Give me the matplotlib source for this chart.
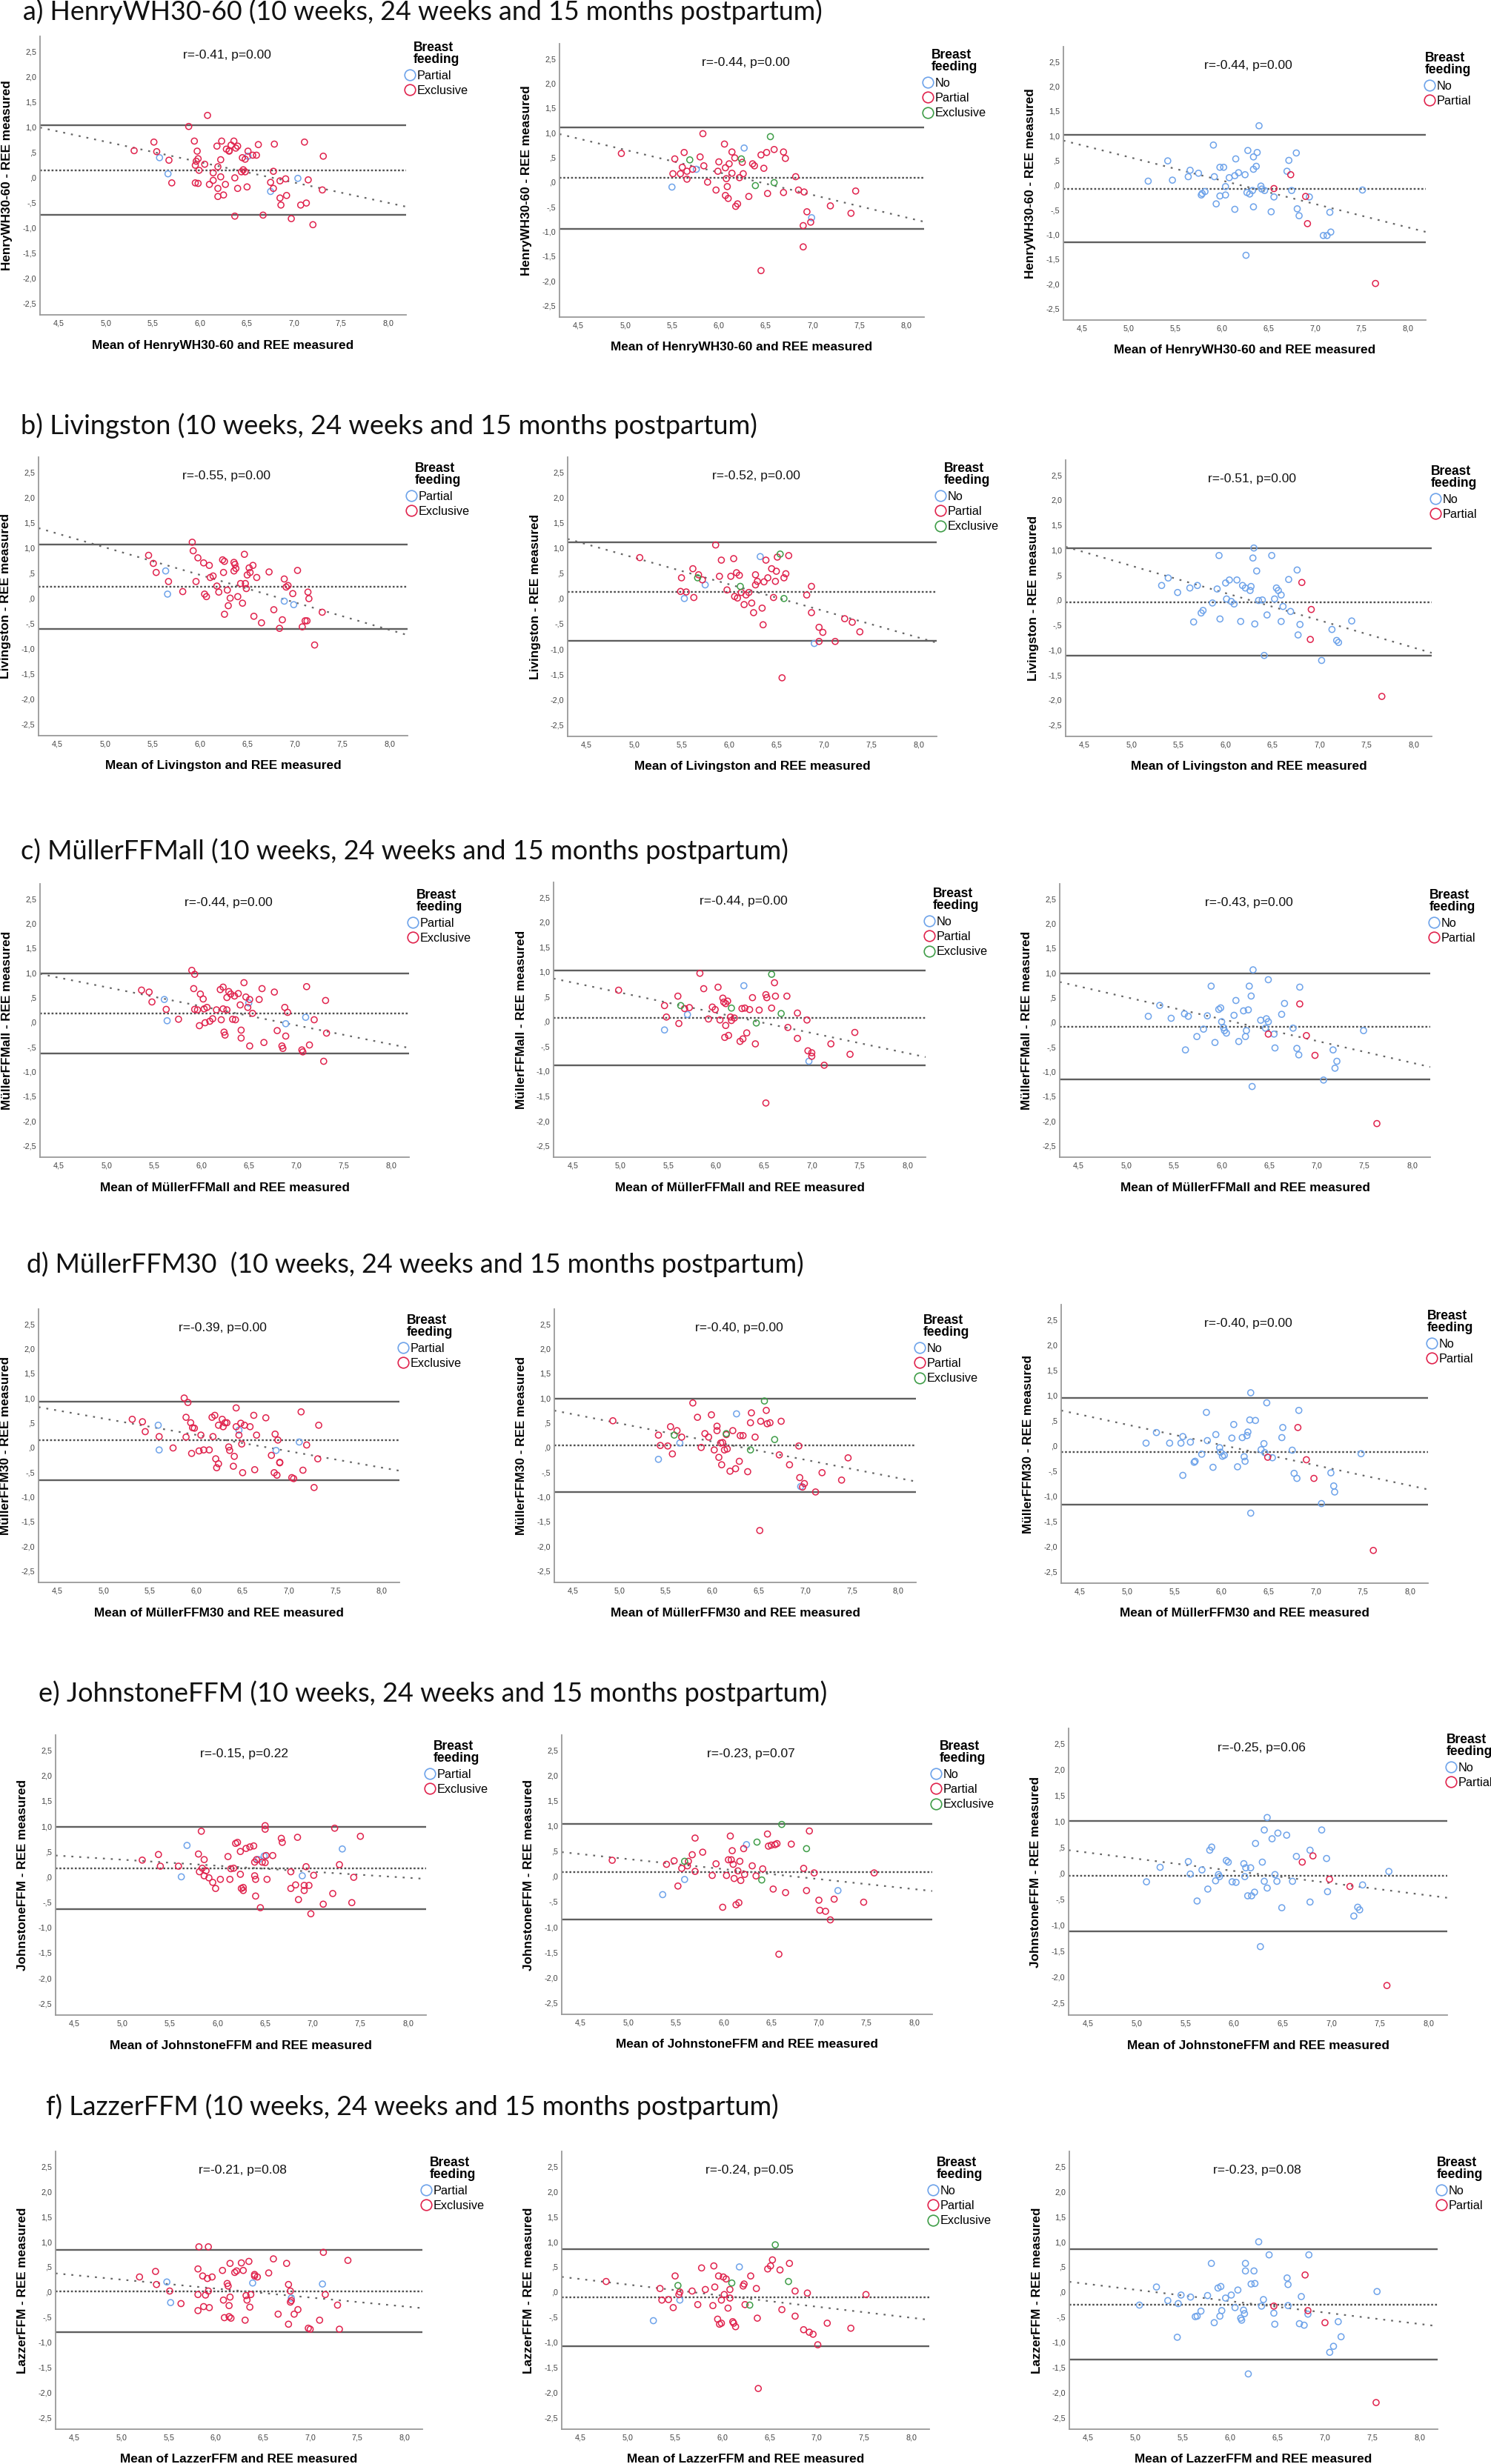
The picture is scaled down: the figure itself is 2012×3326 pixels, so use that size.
import numpy as np
import matplotlib
matplotlib.use('Agg')
import matplotlib.pyplot as plt
from matplotlib import font_manager
from matplotlib.lines import Line2D
from matplotlib.ticker import MultipleLocator, FuncFormatter

# ---------------- data (mean of methods, difference) ----------------
METHODS = ['HenryWH30-60', 'Livingston', 'MüllerFFMall', 'MüllerFFM30', 'JohnstoneFFM', 'LazzerFFM']
TITLES = [
    'a) HenryWH30-60 (10 weeks, 24 weeks and 15 months postpartum)',
    'b) Livingston (10 weeks, 24 weeks and 15 months postpartum)',
    'c) MüllerFFMall (10 weeks, 24 weeks and 15 months postpartum)',
    'd) MüllerFFM30  (10 weeks, 24 weeks and 15 months postpartum)',
    'e) JohnstoneFFM (10 weeks, 24 weeks and 15 months postpartum)',
    'f) LazzerFFM (10 weeks, 24 weeks and 15 months postpartum)',
]
LEGEND_LABELS = [['Partial', 'Exclusive'], ['No', 'Partial', 'Exclusive'], ['No', 'Partial']]

R_TEXT = [
    ['r=-0.41, p=0.00', 'r=-0.44, p=0.00', 'r=-0.44, p=0.00'],
    ['r=-0.55, p=0.00', 'r=-0.52, p=0.00', 'r=-0.51, p=0.00'],
    ['r=-0.44, p=0.00', 'r=-0.44, p=0.00', 'r=-0.43, p=0.00'],
    ['r=-0.39, p=0.00', 'r=-0.40, p=0.00', 'r=-0.40, p=0.00'],
    ['r=-0.15, p=0.22', 'r=-0.23, p=0.07', 'r=-0.25, p=0.06'],
    ['r=-0.21, p=0.08', 'r=-0.24, p=0.05', 'r=-0.23, p=0.08'],
]
LOA_UPPER = [[1.03, 1.10, 1.02], [1.06, 1.11, 1.03], [0.98, 1.02, 0.98],
             [0.93, 0.98, 0.94], [0.98, 1.04, 1.02], [0.84, 0.85, 0.85]]
BIAS = [[0.14, 0.08, -0.07], [0.23, 0.13, -0.05], [0.18, 0.07, -0.09],
        [0.14, 0.04, -0.12], [0.17, 0.09, -0.04], [0.01, -0.11, -0.25]]
LOA_LOWER = [[-0.74, -0.94, -1.16], [-0.61, -0.84, -1.11], [-0.63, -0.88, -1.16],
             [-0.66, -0.90, -1.17], [-0.64, -0.85, -1.11], [-0.80, -1.08, -1.34]]
REG_SLOPE = [[-0.404, -0.456, -0.475], [-0.546, -0.528, -0.546], [-0.385, -0.406, -0.442],
             [-0.331, -0.369, -0.403], [-0.119, -0.198, -0.236], [-0.178, -0.220, -0.227]]
REG_INTERCEPT = [[2.726, 2.933, 2.943], [3.738, 3.450, 3.413], [2.633, 2.610, 2.715],
                 [2.240, 2.333, 2.431], [0.933, 1.333, 1.465], [1.137, 1.248, 1.180]]

# ---- row a ----
A1_PARTIAL = [(5.57, 0.39), (5.66, 0.07), (6.51, 0.42), (6.75, -0.28), (7.04, -0.02)]
A1_EXCLUSIVE = [(5.30, 0.53), (5.51, 0.70), (5.54, 0.51), (5.67, 0.34), (5.70, -0.11), (5.88, 1.01),
    (5.94, 0.72), (5.95, -0.11), (5.95, 0.24), (5.96, 0.32), (5.97, 0.52), (5.98, 0.37), (5.98, -0.12),
    (5.99, 0.14), (6.05, 0.26), (6.08, 1.23), (6.10, -0.14), (6.14, 0.09), (6.14, -0.06), (6.18, 0.62),
    (6.19, 0.21), (6.19, -0.22), (6.19, -0.38), (6.22, 0.01), (6.22, 0.35), (6.23, 0.72), (6.25, -0.35),
    (6.27, -0.14), (6.28, 0.56), (6.31, 0.53), (6.31, 0.52), (6.33, 0.64), (6.36, 0.72), (6.37, -0.01),
    (6.37, -0.77), (6.38, 0.58), (6.40, 0.62), (6.40, -0.22), (6.44, 0.11), (6.45, 0.39), (6.46, 0.15),
    (6.48, 0.36), (6.48, 0.11), (6.50, -0.19), (6.51, 0.52), (6.56, 0.44), (6.60, 0.44), (6.62, 0.65),
    (6.67, -0.75), (6.75, -0.10), (6.78, -0.22), (6.78, 0.12), (6.79, 0.66), (6.85, -0.41), (6.85, -0.07),
    (6.86, -0.55), (6.91, -0.03), (6.92, -0.36), (6.97, -0.82), (7.07, -0.55), (7.11, 0.70), (7.13, -0.51),
    (7.15, -0.05), (7.20, -0.94), (7.30, -0.25), (7.31, 0.42)]
A2_NO = [(5.50, -0.10), (5.76, 0.26), (6.27, 0.69), (6.99, -0.72)]
A2_PARTIAL = [(4.96, 0.58), (5.51, 0.17), (5.53, 0.47), (5.59, 0.17), (5.61, 0.30), (5.63, 0.60),
    (5.66, 0.22), (5.66, 0.06), (5.72, 0.26), (5.80, 0.51), (5.83, 0.98), (5.84, 0.33), (5.88, 0.00),
    (5.97, -0.16), (5.99, 0.22), (6.00, 0.41), (6.06, 0.77), (6.07, 0.29), (6.07, -0.27), (6.08, 0.07),
    (6.09, -0.09), (6.10, -0.33), (6.11, 0.37), (6.14, 0.18), (6.14, 0.61), (6.17, 0.49), (6.18, -0.49),
    (6.20, -0.44), (6.22, 0.09), (6.25, 0.40), (6.26, 0.17), (6.32, -0.29), (6.36, 0.37), (6.38, 0.33),
    (6.45, 0.55), (6.45, -1.79), (6.48, 0.28), (6.51, 0.60), (6.52, -0.23), (6.59, 0.66), (6.69, 0.61),
    (6.69, -0.21), (6.71, 0.48), (6.82, 0.11), (6.85, -0.16), (6.90, -1.31), (6.90, -0.88), (6.91, -0.20),
    (6.94, -0.60), (6.98, -0.81), (7.19, -0.48), (7.41, -0.63), (7.46, -0.18)]
A2_EXCLUSIVE = [(5.69, 0.45), (6.24, 0.47), (6.39, -0.07), (6.55, 0.92), (6.59, -0.01)]
A3_NO = [(5.21, 0.08), (5.42, 0.49), (5.47, 0.10), (5.64, 0.17), (5.66, 0.30), (5.75, 0.24), (5.78, -0.20),
    (5.79, -0.17), (5.82, -0.13), (5.91, 0.81), (5.92, 0.17), (5.94, -0.38), (5.98, 0.36), (5.98, -0.22),
    (6.02, 0.36), (6.04, -0.03), (6.04, -0.20), (6.08, 0.15), (6.14, 0.19), (6.14, -0.49), (6.15, 0.53),
    (6.18, 0.25), (6.25, 0.21), (6.26, -1.42), (6.27, -0.15), (6.28, 0.70), (6.30, -0.18), (6.33, -0.11),
    (6.34, 0.32), (6.34, -0.44), (6.34, 0.57), (6.37, 0.38), (6.38, 0.66), (6.40, 1.20), (6.42, -0.02),
    (6.43, -0.08), (6.46, -0.11), (6.53, -0.54), (6.56, -0.24), (6.70, 0.28), (6.72, 0.50), (6.75, -0.11),
    (6.80, 0.65), (6.81, -0.48), (6.83, -0.62), (6.94, -0.24), (7.09, -1.02), (7.13, -1.02), (7.16, -0.55),
    (7.17, -0.95), (7.51, -0.10)]
A3_PARTIAL = [(6.56, -0.07), (6.74, 0.21), (6.90, -0.23), (6.92, -0.78), (7.65, -1.99)]

# ---- row b ----
B1_PARTIAL = [(5.64, 0.54), (5.66, 0.08), (6.89, -0.06), (6.99, -0.13)]
B1_EXCLUSIVE = [(5.46, 0.85), (5.51, 0.69), (5.54, 0.51), (5.67, 0.33), (5.82, 0.13), (5.92, 1.11),
    (5.93, 0.94), (5.96, 0.33), (5.98, 0.80), (6.04, 0.70), (6.05, 0.08), (6.07, 0.03), (6.10, 0.65),
    (6.11, 0.41), (6.14, 0.44), (6.18, 0.24), (6.20, 0.12), (6.24, 0.76), (6.25, 0.51), (6.26, 0.73),
    (6.26, -0.32), (6.29, 0.16), (6.30, -0.15), (6.32, 0.00), (6.36, 0.71), (6.36, 0.54), (6.37, 0.67),
    (6.38, 0.59), (6.40, 0.03), (6.43, 0.29), (6.45, -0.10), (6.47, 0.87), (6.48, 0.29), (6.49, 0.19),
    (6.50, 0.46), (6.52, 0.60), (6.53, 0.51), (6.56, 0.65), (6.57, -0.36), (6.60, 0.41), (6.65, -0.49),
    (6.73, 0.52), (6.78, -0.23), (6.84, -0.60), (6.87, -0.43), (6.89, 0.38), (6.91, 0.22), (6.93, 0.25),
    (6.98, 0.09), (7.03, 0.55), (7.08, -0.57), (7.11, -0.45), (7.13, -0.45), (7.14, 0.12), (7.15, -0.01),
    (7.21, -0.93), (7.29, -0.28)]
B2_NO = [(5.53, 0.00), (5.75, 0.27), (6.33, 0.83), (6.90, -0.89)]
B2_PARTIAL = [(5.06, 0.81), (5.49, 0.14), (5.50, 0.41), (5.55, 0.13), (5.62, 0.59), (5.63, 0.02),
    (5.68, 0.47), (5.72, 0.37), (5.86, 1.06), (5.90, 0.44), (5.92, 0.76), (5.98, 0.17), (6.02, 0.44),
    (6.05, 0.79), (6.06, 0.04), (6.08, 0.51), (6.09, 0.01), (6.11, 0.46), (6.13, 0.12), (6.16, -0.12),
    (6.18, 0.07), (6.21, 0.12), (6.24, -0.09), (6.26, -0.28), (6.28, 0.47), (6.28, 0.27), (6.30, 0.34),
    (6.35, -0.19), (6.36, -0.52), (6.37, 0.33), (6.39, 0.76), (6.41, 0.41), (6.45, 0.59), (6.47, 0.02),
    (6.49, 0.34), (6.50, 0.54), (6.51, 0.82), (6.58, 0.41), (6.60, 0.49), (6.63, 0.85), (6.82, 0.07),
    (6.87, 0.24), (6.87, -0.28), (6.95, -0.57), (6.99, -0.67), (7.12, -0.85), (7.22, -0.40), (7.30, -0.47),
    (7.38, -0.66), (6.56, -1.57), (6.95, -0.85)]
B2_EXCLUSIVE = [(5.67, 0.41), (6.12, 0.24), (6.54, 0.88), (6.58, 0.00)]
B3_NO = [(5.32, 0.29), (5.39, 0.44), (5.49, 0.15), (5.62, 0.24), (5.66, -0.44), (5.70, 0.29), (5.74, -0.26),
    (5.76, -0.21), (5.86, -0.06), (5.91, 0.22), (5.93, 0.89), (5.94, -0.38), (6.00, 0.34), (6.01, 0.02),
    (6.04, 0.40), (6.06, -0.03), (6.09, -0.08), (6.12, 0.40), (6.16, -0.43), (6.18, 0.29), (6.21, 0.24),
    (6.26, 0.19), (6.27, 0.27), (6.29, 0.84), (6.30, 1.04), (6.31, -0.48), (6.33, 0.58), (6.35, -0.01),
    (6.39, 0.00), (6.41, -1.11), (6.44, -0.30), (6.49, 0.89), (6.52, 0.02), (6.54, 0.24), (6.56, 0.19),
    (6.59, 0.10), (6.59, -0.43), (6.61, -0.13), (6.67, 0.41), (6.69, -0.23), (6.76, 0.60), (6.77, -0.70),
    (6.79, -0.49), (7.02, -1.21), (7.13, -0.59), (7.18, -0.81), (7.20, -0.85), (7.34, -0.42)]
B3_PARTIAL = [(6.81, 0.35), (6.91, -0.19), (6.90, -0.79), (7.66, -1.93)]

# ---- row c ----
C1_PARTIAL = [(5.61, 0.46), (5.64, 0.03), (6.50, 0.39), (6.89, -0.03), (7.10, 0.10)]
C1_EXCLUSIVE = [(5.37, 0.65), (5.45, 0.61), (5.48, 0.41), (5.63, 0.26), (5.76, 0.06), (5.90, 1.05),
    (5.93, 0.97), (5.92, 0.68), (5.93, 0.26), (5.96, 0.25), (5.98, -0.07), (5.99, 0.57), (6.02, 0.47),
    (6.03, 0.27), (6.04, -0.01), (6.06, 0.30), (6.09, 0.02), (6.12, 0.07), (6.16, 0.25), (6.20, 0.66),
    (6.21, 0.05), (6.23, 0.71), (6.23, 0.27), (6.24, -0.20), (6.25, -0.26), (6.27, 0.50), (6.27, 0.25),
    (6.29, 0.62), (6.31, 0.57), (6.33, 0.06), (6.35, 0.53), (6.36, 0.05), (6.39, 0.58), (6.41, 0.35),
    (6.42, -0.16), (6.42, -0.32), (6.45, 0.80), (6.47, 0.51), (6.49, 0.30), (6.51, 0.46), (6.51, -0.48),
    (6.54, 0.18), (6.61, 0.46), (6.64, 0.68), (6.66, -0.41), (6.77, 0.61), (6.80, -0.17), (6.85, -0.48),
    (6.86, -0.53), (6.88, 0.30), (6.89, -0.28), (6.91, 0.20), (7.06, -0.56), (7.07, -0.60), (7.11, 0.72),
    (7.14, -0.46), (7.19, 0.05), (7.31, 0.44), (7.32, -0.22), (7.29, -0.79)]
C2_NO = [(5.46, -0.17), (5.70, 0.14), (6.29, 0.72), (6.97, -0.80)]
C2_PARTIAL = [(4.98, 0.63), (5.46, 0.32), (5.48, 0.09), (5.60, 0.51), (5.61, -0.04), (5.67, 0.26),
    (5.72, 0.28), (5.83, 0.97), (5.87, 0.66), (5.92, 0.05), (5.96, 0.29), (5.99, 0.24), (6.02, 0.69),
    (6.04, 0.03), (6.07, 0.47), (6.08, 0.39), (6.09, -0.32), (6.10, -0.08), (6.10, 0.36), (6.12, 0.41),
    (6.13, -0.28), (6.15, 0.09), (6.16, 0.02), (6.19, 0.07), (6.25, -0.40), (6.27, 0.26), (6.28, -0.35),
    (6.30, 0.27), (6.32, -0.23), (6.35, 0.24), (6.38, 0.48), (6.41, -0.45), (6.45, 0.23), (6.52, 0.54),
    (6.53, 0.48), (6.58, 0.27), (6.61, 0.78), (6.62, 0.51), (6.74, 0.51), (6.75, -0.12), (6.85, 0.17),
    (6.85, -0.34), (6.95, 0.03), (6.96, -0.59), (7.00, -0.70), (7.00, -0.63), (7.13, -0.88), (7.20, -0.45),
    (7.40, -0.66), (7.45, -0.22), (6.52, -1.64)]
C2_EXCLUSIVE = [(5.63, 0.32), (6.16, 0.27), (6.42, -0.03), (6.58, 0.95), (6.68, 0.16)]
C3_NO = [(5.23, 0.12), (5.35, 0.34), (5.47, 0.08), (5.61, 0.17), (5.62, -0.56), (5.65, 0.12), (5.74, -0.29),
    (5.81, -0.14), (5.85, 0.13), (5.89, 0.73), (5.93, -0.41), (5.97, 0.26), (5.99, 0.29), (6.00, 0.01),
    (6.02, -0.11), (6.03, -0.17), (6.05, -0.22), (6.13, 0.14), (6.15, 0.44), (6.18, -0.39), (6.23, 0.23),
    (6.25, -0.29), (6.26, -0.17), (6.28, 0.25), (6.29, 0.73), (6.31, 0.53), (6.33, 1.06), (6.32, -1.30),
    (6.41, 0.04), (6.46, -0.12), (6.47, 0.07), (6.49, 0.86), (6.49, 0.01), (6.55, -0.24), (6.56, -0.52),
    (6.63, 0.16), (6.66, 0.38), (6.75, -0.12), (6.79, -0.53), (6.81, -0.66), (6.82, 0.71), (7.07, -1.17),
    (7.17, -0.56), (7.19, -0.93), (7.21, -0.79), (7.49, -0.17)]
C3_PARTIAL = [(6.49, -0.24), (6.82, 0.37), (6.89, -0.27), (6.98, -0.67), (7.63, -2.05)]

# ---- row d ----
D1_PARTIAL = [(5.59, 0.45), (5.60, -0.05), (6.46, 0.35), (6.86, -0.06), (7.11, 0.11)]
D1_EXCLUSIVE = [(5.31, 0.57), (5.42, 0.52), (5.45, 0.32), (5.60, 0.22), (5.75, -0.01), (5.87, 1.00),
    (5.91, 0.91), (5.89, 0.61), (5.89, 0.21), (5.94, 0.50), (5.95, -0.12), (5.96, 0.40), (5.98, 0.39),
    (6.03, -0.07), (6.05, 0.25), (6.08, -0.05), (6.14, -0.05), (6.17, 0.61), (6.18, 0.22), (6.20, 0.65),
    (6.21, -0.23), (6.22, -0.41), (6.24, 0.45), (6.24, -0.33), (6.28, 0.57), (6.29, 0.42), (6.31, 0.50),
    (6.33, 0.50), (6.35, 0.01), (6.36, -0.06), (6.40, -0.38), (6.41, -0.18), (6.43, 0.42), (6.43, 0.80),
    (6.46, 0.25), (6.48, 0.49), (6.49, 0.07), (6.50, -0.51), (6.52, 0.45), (6.58, 0.42), (6.62, 0.65),
    (6.63, -0.45), (6.65, 0.25), (6.75, 0.60), (6.81, -0.16), (6.84, -0.51), (6.85, 0.27), (6.87, -0.56),
    (6.88, 0.15), (6.90, -0.31), (6.90, -0.30), (7.03, -0.61), (7.05, -0.63), (7.13, 0.72), (7.15, -0.46),
    (7.19, 0.05), (7.32, 0.45), (7.31, -0.23), (7.27, -0.81)]
D2_NO = [(5.42, -0.24), (5.65, 0.09), (6.26, 0.68), (6.95, -0.79)]
D2_PARTIAL = [(4.93, 0.54), (5.42, 0.25), (5.44, 0.04), (5.52, 0.03), (5.55, 0.42), (5.57, -0.13),
    (5.62, 0.34), (5.67, 0.21), (5.79, 0.90), (5.84, 0.61), (5.88, 0.00), (5.92, 0.28), (5.96, 0.21),
    (5.99, 0.66), (6.02, -0.05), (6.05, 0.43), (6.05, 0.34), (6.07, -0.20), (6.09, 0.09), (6.10, -0.35),
    (6.11, 0.10), (6.13, -0.05), (6.15, 0.26), (6.16, -0.03), (6.19, -0.48), (6.22, 0.34), (6.25, -0.43),
    (6.29, -0.28), (6.30, 0.24), (6.33, 0.24), (6.38, -0.49), (6.41, 0.50), (6.42, 0.70), (6.46, 0.21),
    (6.52, 0.53), (6.58, 0.75), (6.59, 0.48), (6.62, 0.50), (6.72, -0.15), (6.74, 0.53), (6.83, -0.35),
    (6.93, 0.03), (6.94, -0.61), (6.97, -0.80), (6.99, -0.73), (7.11, -0.90), (7.18, -0.51), (7.39, -0.66),
    (7.46, -0.21), (6.51, -1.68)]
D2_EXCLUSIVE = [(5.59, 0.25), (6.15, 0.28), (6.41, -0.05), (6.56, 0.94), (6.67, 0.16)]
D3_NO = [(5.20, 0.05), (5.31, 0.26), (5.45, 0.05), (5.57, 0.05), (5.59, 0.18), (5.59, -0.59), (5.67, 0.07),
    (5.71, -0.33), (5.72, -0.31), (5.79, -0.17), (5.84, 0.66), (5.85, 0.10), (5.91, -0.43), (5.94, 0.22),
    (5.98, -0.04), (5.99, -0.13), (6.01, -0.21), (6.03, -0.19), (6.11, 0.15), (6.13, 0.42), (6.17, -0.42),
    (6.22, 0.16), (6.24, -0.22), (6.25, -0.31), (6.27, 0.20), (6.28, 0.27), (6.30, 0.51), (6.31, 1.05),
    (6.31, -1.34), (6.36, 0.50), (6.42, -0.08), (6.45, 0.04), (6.46, -0.14), (6.48, 0.85), (6.54, -0.24),
    (6.64, 0.16), (6.65, 0.36), (6.75, -0.09), (6.77, -0.55), (6.80, -0.65), (6.82, 0.70), (7.06, -1.15),
    (7.16, -0.54), (7.19, -0.80), (7.20, -0.92), (7.48, -0.16)]
D3_PARTIAL = [(6.49, -0.23), (6.81, 0.36), (6.90, -0.28), (6.98, -0.65), (7.61, -2.08)]

# ---- row e ----
E1_PARTIAL = [(5.62, 0.00), (5.68, 0.62), (6.43, 0.34), (6.49, 0.41), (6.89, 0.02), (7.31, 0.55)]
E1_EXCLUSIVE = [(5.21, 0.33), (5.38, 0.44), (5.40, 0.21), (5.59, 0.21), (5.80, 0.45), (5.81, 0.10),
    (5.83, 0.90), (5.84, 0.17), (5.86, 0.34), (5.86, 0.02), (5.88, 0.12), (5.91, -0.02), (5.95, -0.11),
    (5.98, -0.23), (6.03, -0.05), (6.11, 0.40), (6.13, -0.05), (6.14, 0.16), (6.17, 0.17), (6.19, 0.66),
    (6.21, 0.68), (6.24, 0.50), (6.24, 0.05), (6.25, -0.23), (6.27, -0.21), (6.27, -0.27), (6.30, 0.56),
    (6.34, 0.59), (6.38, 0.61), (6.39, 0.02), (6.39, 0.29), (6.40, -0.05), (6.40, -0.38), (6.41, 0.34),
    (6.45, -0.61), (6.47, 0.29), (6.50, 1.01), (6.50, 0.94), (6.50, 0.28), (6.51, 0.42), (6.52, -0.05),
    (6.58, 0.42), (6.67, 0.76), (6.68, 0.68), (6.77, 0.10), (6.77, -0.23), (6.82, -0.16), (6.84, 0.78),
    (6.85, -0.45), (6.91, -0.27), (6.91, -0.17), (6.93, 0.20), (6.96, -0.17), (6.98, -0.73), (7.01, 0.03),
    (7.11, -0.54), (7.21, -0.33), (7.23, 0.96), (7.28, 0.24), (7.41, -0.51), (7.50, 0.80), (7.43, -0.01)]
E2_NO = [(5.36, -0.36), (5.59, -0.06), (6.24, 0.63), (7.20, -0.28)]
E2_PARTIAL = [(4.83, 0.32), (5.40, 0.24), (5.48, 0.31), (5.52, -0.19), (5.56, 0.16), (5.62, 0.21),
    (5.63, 0.30), (5.67, 0.43), (5.70, 0.76), (5.70, 0.10), (5.78, 0.48), (5.88, 0.02), (5.92, 0.25),
    (5.99, -0.61), (6.03, 0.02), (6.05, 0.33), (6.07, 0.80), (6.08, 0.33), (6.09, 0.51), (6.10, 0.24),
    (6.11, -0.04), (6.13, -0.56), (6.15, 0.11), (6.16, -0.52), (6.17, 0.30), (6.18, -0.08), (6.21, 0.55),
    (6.22, 0.04), (6.30, 0.21), (6.34, 0.01), (6.41, 0.15), (6.46, 0.84), (6.47, 0.60), (6.50, 0.62),
    (6.52, -0.25), (6.54, 0.63), (6.56, 0.65), (6.65, -0.32), (6.71, 0.64), (6.84, 0.16), (6.87, -0.28),
    (6.90, 0.90), (6.95, 0.07), (7.00, -0.47), (7.01, -0.67), (7.07, -0.69), (7.12, -0.86), (7.16, -0.45),
    (7.47, -0.51), (7.58, 0.07), (6.58, -1.54)]
E2_EXCLUSIVE = [(5.59, 0.30), (6.35, 0.68), (6.40, -0.07), (6.61, 1.03), (6.87, 0.55)]
E3_NO = [(5.10, -0.16), (5.24, 0.12), (5.53, 0.23), (5.55, -0.01), (5.62, -0.53), (5.67, 0.07), (5.73, -0.30),
    (5.75, 0.45), (5.77, 0.51), (5.81, -0.14), (5.84, -0.02), (5.85, -0.06), (5.92, 0.25), (5.94, 0.22),
    (5.98, -0.16), (6.02, -0.17), (6.10, 0.19), (6.11, -0.06), (6.12, 0.11), (6.14, -0.43), (6.17, 0.11),
    (6.18, -0.43), (6.21, -0.36), (6.22, 0.58), (6.27, -1.41), (6.29, 0.22), (6.31, -0.15), (6.31, 0.84),
    (6.34, -0.28), (6.34, 1.08), (6.39, 0.67), (6.42, -0.02), (6.44, -0.15), (6.45, 0.78), (6.49, -0.66),
    (6.54, 0.74), (6.60, -0.15), (6.64, 0.33), (6.78, -0.55), (6.78, 0.45), (6.90, 0.84), (6.95, 0.29),
    (6.96, -0.35), (7.27, -0.65), (7.29, -0.70), (7.23, -0.82), (7.32, -0.22), (7.59, 0.04)]
E3_PARTIAL = [(6.70, 0.22), (6.81, 0.34), (6.98, -0.11), (7.19, -0.25), (7.57, -2.16)]

# ---- row f ----
F1_PARTIAL = [(5.48, 0.20), (5.52, -0.21), (6.39, 0.18), (6.80, -0.12), (7.13, 0.16)]
F1_EXCLUSIVE = [(5.19, 0.30), (5.36, 0.41), (5.37, 0.15), (5.51, 0.02), (5.63, -0.23), (5.81, 0.46),
    (5.81, -0.05), (5.81, -0.37), (5.82, 0.90), (5.86, 0.32), (5.87, -0.29), (5.89, -0.06), (5.91, 0.27),
    (5.92, 0.90), (5.92, 0.02), (5.93, -0.31), (5.96, 0.30), (6.07, 0.43), (6.08, -0.16), (6.09, -0.51),
    (6.12, 0.17), (6.13, 0.12), (6.14, -0.27), (6.14, -0.49), (6.15, 0.57), (6.15, -0.10), (6.16, -0.52),
    (6.20, 0.39), (6.22, 0.42), (6.27, 0.58), (6.29, 0.43), (6.31, -0.56), (6.32, -0.07), (6.33, -0.16),
    (6.35, 0.61), (6.36, -0.30), (6.37, -0.05), (6.41, 0.32), (6.41, 0.35), (6.44, 0.30), (6.56, 0.38),
    (6.61, 0.66), (6.66, -0.44), (6.75, 0.57), (6.77, 0.15), (6.77, -0.64), (6.79, 0.02), (6.79, -0.20),
    (6.80, -0.17), (6.83, -0.44), (6.87, -0.35), (6.98, -0.72), (7.00, -0.74), (7.10, -0.56), (7.14, 0.79),
    (7.16, -0.05), (7.29, -0.26), (7.31, -0.74), (7.40, 0.63)]
F2_NO = [(5.27, -0.57), (5.55, -0.16), (6.18, 0.50)]
F2_PARTIAL = [(4.77, 0.21), (5.34, 0.07), (5.36, -0.16), (5.43, -0.15), (5.48, -0.31), (5.50, 0.32),
    (5.54, -0.05), (5.55, 0.00), (5.68, 0.02), (5.74, -0.25), (5.78, 0.48), (5.82, 0.05), (5.90, -0.27),
    (5.91, 0.52), (5.92, 0.10), (5.95, -0.54), (5.96, 0.32), (5.97, -0.64), (5.99, -0.62), (5.99, -0.16),
    (6.01, 0.30), (6.02, -0.05), (6.04, 0.26), (6.06, -0.32), (6.08, -0.12), (6.08, 0.05), (6.11, -0.59),
    (6.12, -0.62), (6.14, -0.69), (6.22, 0.12), (6.23, 0.16), (6.24, -0.25), (6.30, 0.32), (6.36, 0.07),
    (6.37, -0.52), (6.48, 0.46), (6.51, 0.52), (6.53, 0.64), (6.61, 0.44), (6.63, -0.35), (6.71, 0.57),
    (6.77, 0.02), (6.77, -0.48), (6.90, -0.02), (6.86, -0.75), (6.92, -0.80), (6.96, -0.84), (7.01, -1.05),
    (7.11, -0.62), (7.36, -0.72), (7.52, -0.05), (6.38, -1.92)]
F2_EXCLUSIVE = [(5.53, 0.13), (6.10, 0.18), (6.29, -0.26), (6.56, 0.94), (6.70, 0.21)]
F3_NO = [(5.04, -0.26), (5.22, 0.10), (5.34, -0.17), (5.44, -0.90), (5.45, -0.23), (5.48, -0.06),
    (5.58, -0.10), (5.63, -0.49), (5.65, -0.48), (5.69, -0.38), (5.76, -0.07), (5.80, 0.57), (5.83, -0.61),
    (5.87, 0.08), (5.89, -0.48), (5.90, 0.11), (5.91, -0.37), (5.95, -0.12), (6.01, -0.06), (6.05, -0.31),
    (6.08, 0.04), (6.11, -0.52), (6.12, -0.56), (6.14, -0.36), (6.15, -0.43), (6.16, 0.57), (6.16, 0.42),
    (6.19, -1.63), (6.22, 0.16), (6.25, 0.42), (6.26, 0.17), (6.30, 1.00), (6.33, -0.28), (6.35, -0.15),
    (6.41, 0.74), (6.46, -0.42), (6.47, -0.64), (6.60, 0.28), (6.61, 0.15), (6.61, -0.27), (6.73, -0.63),
    (6.75, -0.09), (6.78, -0.66), (6.83, 0.74), (6.82, -0.44), (7.09, -1.08), (7.14, -0.59), (7.17, -0.89),
    (7.05, -1.20), (7.55, 0.01)]
F3_PARTIAL = [(6.46, -0.28), (6.79, 0.34), (6.82, -0.37), (7.00, -0.61), (7.54, -2.20)]

# groups per panel, in legend order
PANEL_GROUPS = [
    [[A1_PARTIAL, A1_EXCLUSIVE], [A2_NO, A2_PARTIAL, A2_EXCLUSIVE], [A3_NO, A3_PARTIAL]],
    [[B1_PARTIAL, B1_EXCLUSIVE], [B2_NO, B2_PARTIAL, B2_EXCLUSIVE], [B3_NO, B3_PARTIAL]],
    [[C1_PARTIAL, C1_EXCLUSIVE], [C2_NO, C2_PARTIAL, C2_EXCLUSIVE], [C3_NO, C3_PARTIAL]],
    [[D1_PARTIAL, D1_EXCLUSIVE], [D2_NO, D2_PARTIAL, D2_EXCLUSIVE], [D3_NO, D3_PARTIAL]],
    [[E1_PARTIAL, E1_EXCLUSIVE], [E2_NO, E2_PARTIAL, E2_EXCLUSIVE], [E3_NO, E3_PARTIAL]],
    [[F1_PARTIAL, F1_EXCLUSIVE], [F2_NO, F2_PARTIAL, F2_EXCLUSIVE], [F3_NO, F3_PARTIAL]],
]

# ---------------- layout (pixels) ----------------
W, H = 2012, 3326
AX_BOX = [  # left, top, right, bottom
    [(54, 49, 548, 425), (755, 59, 1247, 428), (1435, 63, 1924, 432)],
    [(52, 617, 550, 993), (766, 617, 1264, 994), (1438, 621, 1932, 994)],
    [(54, 1193, 552, 1562), (747, 1191, 1249, 1562), (1430, 1193, 1930, 1562)],
    [(52, 1767, 539, 2136), (748, 1767, 1236, 2136), (1432, 1761, 1927, 2137)],
    [(75, 2342, 575, 2720), (758, 2342, 1258, 2719), (1442, 2333, 1953, 2720)],
    [(75, 2904, 570, 3279), (758, 2904, 1254, 3279), (1443, 2904, 1940, 3279)],
]
TITLE_POS = [(31, 27, 1080), (28, 586, 997), (28, 1160, 1040), (36, 1718, 1050), (52, 2297, 1065), (62, 2855, 989)]

COLORS = ['#6ea3ea', '#e0234d', '#3f9d48']

avail = {f.name for f in font_manager.fontManager.ttflist}
SANS = 'Liberation Sans' if 'Liberation Sans' in avail else 'DejaVu Sans'
TITLE_FONT = 'Lato' if 'Lato' in avail else 'DejaVu Sans'
plt.rcParams['font.family'] = [SANS, 'DejaVu Sans']


def spss_fmt(v, pos=None):
    s = f'{v:.1f}'.replace('.', ',')
    if s.startswith('0,'):
        s = s[1:]
    elif s.startswith('-0,'):
        s = '-' + s[2:]
    if s == '-,0':
        s = ',0'
    return s


fig = plt.figure(figsize=(W / 100, H / 100), dpi=100)
fig.patch.set_facecolor('white')
renderer = fig.canvas.get_renderer()


def fit_size(text, target, **kw):
    p = fig.text(0, 0, text, fontsize=12, **kw)
    w = p.get_window_extent(renderer=renderer).width
    p.remove()
    return 12 * target / w


FS_XLAB = fit_size('Mean of Livingston and REE measured', 318, fontweight='bold')
FS_YLAB = fit_size('Livingston - REE measured', 222, fontweight='bold')
FS_ANN = fit_size('r=-0.55, p=0.00', 118)
FS_LEG = fit_size('Exclusive', 69)
FS_LEGT = fit_size('feeding', 62, fontweight='bold')
FS_TICK = fit_size('2,5', 15)

for r in range(6):
    for c in range(3):
        left, top, right, bottom = AX_BOX[r][c]
        w_px, h_px = right - left, bottom - top
        ax = fig.add_axes([left / W, 1 - bottom / H, w_px / W, h_px / H])
        ax.set_xlim(4.3, 8.19)
        ax.set_ylim(-2.73, 2.8)
        for s in ['top', 'right']:
            ax.spines[s].set_visible(False)
        for s in ['left', 'bottom']:
            ax.spines[s].set_color('#9a9a9a')
            ax.spines[s].set_linewidth(1.3)
        ax.xaxis.set_major_locator(MultipleLocator(0.5))
        ax.yaxis.set_major_locator(MultipleLocator(0.5))
        ax.xaxis.set_major_formatter(FuncFormatter(spss_fmt))
        ax.yaxis.set_major_formatter(FuncFormatter(spss_fmt))
        ax.tick_params(axis='both', length=0, labelsize=FS_TICK, labelcolor='#444444')
        ax.tick_params(axis='y', pad=3.6)
        ax.tick_params(axis='x', pad=4.5)

        # reference lines
        ax.axhline(LOA_UPPER[r][c], color='#5f5f5f', lw=1.7, zorder=2)
        ax.axhline(LOA_LOWER[r][c], color='#5f5f5f', lw=1.7, zorder=2)
        ax.axhline(BIAS[r][c], color='#505050', lw=1.7, ls=(0, (1.1, 1.1)), zorder=2)
        xs = np.array(ax.get_xlim())
        ax.plot(xs, REG_INTERCEPT[r][c] + REG_SLOPE[r][c] * xs, color='#666666', lw=1.6,
                ls=(0, (1.2, 3.6)), zorder=2)

        # points
        for g, pts in enumerate(PANEL_GROUPS[r][c]):
            arr = np.array(pts)
            ax.scatter(arr[:, 0], arr[:, 1], s=34, facecolors='none', edgecolors=COLORS[g],
                       linewidths=1.1, zorder=3)

        ax.text(0.51, 0.932, R_TEXT[r][c], transform=ax.transAxes, ha='center', va='center',
                fontsize=FS_ANN, color='#111111')

        name = METHODS[r]
        ax.set_xlabel(f'Mean of {name} and REE measured', fontsize=FS_XLAB, fontweight='bold')
        ax.xaxis.set_label_coords(0.5, -41 / h_px)
        ax.xaxis.label.set_va('center')
        ax.set_ylabel(f'{name} - REE measured', fontsize=FS_YLAB, fontweight='bold')
        ax.yaxis.set_label_coords(-44 / w_px, 0.5)
        ax.yaxis.label.set_va('center')

        labels = LEGEND_LABELS[c]
        handles = [Line2D([], [], ls='', marker='o', markersize=10.5, markerfacecolor='none',
                          markeredgecolor=COLORS[i], markeredgewidth=1.2) for i in range(len(labels))]
        leg = ax.legend(handles, labels, title='Breast\nfeeding', loc='upper left',
                        bbox_to_anchor=(0.998, 1 - 7 / h_px), frameon=False,
                        borderaxespad=0, borderpad=0, handlelength=0.75, handletextpad=0.2,
                        labelspacing=0.33, prop={'size': FS_LEG},
                        title_fontproperties={'size': FS_LEGT, 'weight': 'bold'})
        leg.get_title().set_linespacing(0.95)

# titles, fitted to their measured widths
for r in range(6):
    x0, base, width = TITLE_POS[r]
    t = fig.text(x0 / W, 1 - base / H, TITLES[r], fontsize=28, family=[TITLE_FONT, 'DejaVu Sans'],
                 va='baseline', ha='left', color='#111111')
    bb = t.get_window_extent(renderer=renderer)
    t.set_fontsize(28 * width / bb.width)

fig.savefig('out.png', dpi=100, facecolor='white')
